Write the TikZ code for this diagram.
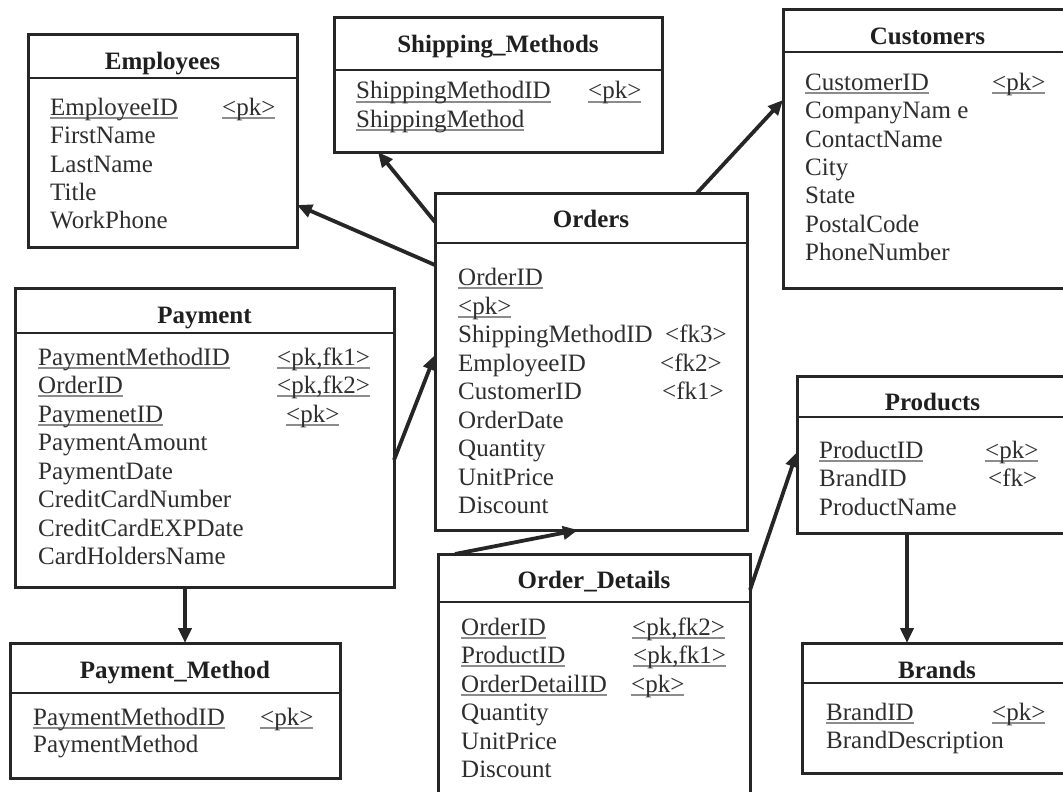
\documentclass[tikz,border=0pt]{standalone}
\usepackage{fontspec}
\setmainfont{Liberation Serif}
\usetikzlibrary{arrows.meta}

% underlined key field
\newcommand\uln[1]{\setbox0\hbox{#1}\rlap{\color{black!45}\rule[-3.6pt]{\wd0}{1.6pt}}\box0}

% table: name, x1, y1, x2, y2, header-line y, title, title baseline
\newcommand\tbl[8]{%
  \node[tbox, minimum width={(#4-#2)*1pt}, minimum height={(#5-#3)*1pt}]
    (#1) at ({(#2+#4)/2},{(#3+#5)/2}) {};
  \draw[tline] (#1.west |- 0,#6) -- (#1.east |- 0,#6);
  \node[ttl, anchor=base] (#1-t) at (#1.center |- 0,#8) {#7};
}
% field: name, x, baseline y, text
\newcommand\fld[4]{\node[fld] (#1) at (#2,#3) {#4};}

\begin{document}
\begin{tikzpicture}[x=1pt, y=-1pt,
  tbox/.style={draw=black!85, line width=3pt, fill=white, inner sep=0pt, outer sep=0pt},
  tline/.style={draw=black!85, line width=2pt},
  ttl/.style={inner sep=0pt, text=black!88, font=\fontsize{25}{28}\selectfont\bfseries},
  fld/.style={inner sep=0pt, anchor=base west, text=black!82, font=\fontsize{25}{28}\selectfont},
  rel/.style={draw=black!85, line width=3.8pt, -{Triangle[length=15pt,width=13pt]}}]

\useasboundingbox (0,0) rectangle (1063,792);
\clip (0,0) rectangle (1063,792);

% tables
\tbl{emp}{28}{35}{297}{247}{78}{Employees}{70}
\tbl{ship}{334}{18}{662}{152}{70}{Shipping\_Methods}{53}
\tbl{cust}{783}{10}{1072}{288}{52}{Customers}{45}
\tbl{ord}{435}{193}{747}{530}{243}{Orders}{227}
\tbl{pay}{15}{288}{394}{587}{333}{Payment}{323}
\tbl{pm}{10}{643}{340}{778}{693}{Payment\_Method}{678}
\tbl{od}{438}{554}{750}{830}{602}{Order\_Details}{588}
\tbl{prod}{797}{376}{1068}{533}{417}{Products}{410}
\tbl{brand}{802}{643}{1072}{773}{683}{Brands}{678}

% Employees
\fld{emp1}{50}{115}{\uln{EmployeeID}}
\fld{emp1k}{222}{115}{\uln{<pk>}}
\fld{emp2}{50}{143}{FirstName}
\fld{emp3}{50}{172}{LastName}
\fld{emp4}{50}{200}{Title}
\fld{emp5}{50}{228}{WorkPhone}

% Shipping_Methods
\fld{ship1}{356}{99}{\uln{ShippingMethodID}}
\fld{ship1k}{588}{99}{\uln{<pk>}}
\fld{ship2}{356}{127}{\uln{ShippingMethod}}

% Customers
\fld{cust1}{805}{90}{\uln{CustomerID}}
\fld{cust1k}{992}{90}{\uln{<pk>}}
\fld{cust2}{805}{118}{CompanyNam e}
\fld{cust3}{805}{147}{ContactName}
\fld{cust4}{805}{175}{City}
\fld{cust5}{805}{203}{State}
\fld{cust6}{805}{232}{PostalCode}
\fld{cust7}{805}{260}{PhoneNumber}

% Orders
\fld{ord1}{458}{285}{\uln{OrderID}}
\fld{ord2}{458}{314}{\uln{<pk>}}
\fld{ord3}{458}{342}{ShippingMethodID}
\fld{ord3k}{665}{342}{<fk3>}
\fld{ord4}{458}{371}{EmployeeID}
\fld{ord4k}{660}{371}{<fk2>}
\fld{ord5}{458}{399}{CustomerID}
\fld{ord5k}{662}{399}{<fk1>}
\fld{ord6}{458}{428}{OrderDate}
\fld{ord7}{458}{456}{Quantity}
\fld{ord8}{458}{485}{UnitPrice}
\fld{ord9}{458}{513}{Discount}

% Payment
\fld{pay1}{38}{365}{\uln{PaymentMethodID}}
\fld{pay1k}{277}{365}{\uln{<pk,fk1>}}
\fld{pay2}{38}{393}{\uln{OrderID}}
\fld{pay2k}{277}{393}{\uln{<pk,fk2>}}
\fld{pay3}{38}{422}{\uln{PaymenetID}}
\fld{pay3k}{286}{422}{\uln{<pk>}}
\fld{pay4}{38}{450}{PaymentAmount}
\fld{pay5}{38}{479}{PaymentDate}
\fld{pay6}{38}{507}{CreditCardNumber}
\fld{pay7}{38}{536}{CreditCardEXPDate}
\fld{pay8}{38}{564}{CardHoldersName}

% Payment_Method
\fld{pm1}{33}{725}{\uln{PaymentMethodID}}
\fld{pm1k}{260}{725}{\uln{<pk>}}
\fld{pm2}{33}{752}{PaymentMethod}

% Order_Details
\fld{od1}{461}{635}{\uln{OrderID}}
\fld{od1k}{632}{635}{\uln{<pk,fk2>}}
\fld{od2}{461}{663}{\uln{ProductID}}
\fld{od2k}{633}{663}{\uln{<pk,fk1>}}
\fld{od3}{461}{692}{\uln{OrderDetailID}}
\fld{od3k}{631}{692}{\uln{<pk>}}
\fld{od4}{461}{720}{Quantity}
\fld{od5}{461}{749}{UnitPrice}
\fld{od6}{461}{777}{Discount}

% Products
\fld{prod1}{819}{458}{\uln{ProductID}}
\fld{prod1k}{985}{458}{\uln{<pk>}}
\fld{prod2}{819}{486}{BrandID}
\fld{prod2k}{988}{486}{<fk>}
\fld{prod3}{819}{515}{ProductName}

% Brands
\fld{brand1}{826}{720}{\uln{BrandID}}
\fld{brand1k}{992}{720}{\uln{<pk>}}
\fld{brand2}{826}{748}{BrandDescription}

% relationships
\draw[rel] (ord.west |- 0,265) -- (emp.east |- 0,205);
\draw[rel] (ord.west |- 0,222) -- (ship.south -| 378,0);
\draw[rel] (ord.north -| 697,0) -- (cust.west |- 0,100);
\draw[rel] (pay.east |- 0,460) -- (ord.west |- 0,355);
\draw[rel] (od.north -| 455,0) -- (ord.south -| 578,0);
\draw[rel] (od.east |- 0,590) -- (prod.west |- 0,452);
\draw[rel] (prod.south -| 907,0) -- (brand.north -| 907,0);
\draw[rel] (pay.south -| 185,0) -- (pm.north -| 185,0);
\end{tikzpicture}
\end{document}
